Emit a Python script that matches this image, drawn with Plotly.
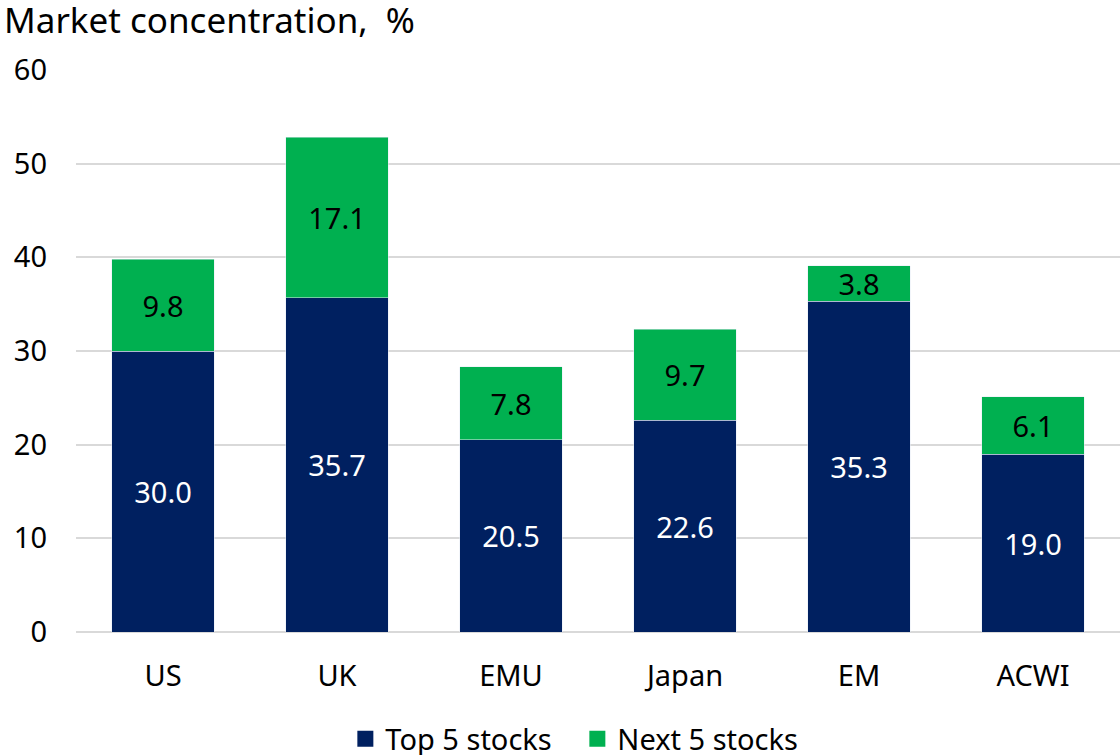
import plotly.graph_objects as go

regions = ["US", "UK", "EMU", "Japan", "EM", "ACWI"]
top5 = [30.0, 35.7, 20.5, 22.6, 35.3, 19.0]
next5 = [9.8, 17.1, 7.8, 9.7, 3.8, 6.1]

navy = "#002060"
green = "#00B050"

fig = go.Figure()
fig.add_trace(go.Bar(x=regions, y=top5, name="Top 5 stocks", marker_color=navy,
                     showlegend=False,
                     text=[f"{v:.1f}" for v in top5], textposition="inside",
                     insidetextanchor="middle", constraintext="none",
                     textfont=dict(color="white", size=29)))
fig.add_trace(go.Bar(x=regions, y=next5, name="Next 5 stocks", marker_color=green,
                     showlegend=False,
                     text=[f"{v:.1f}" for v in next5], textposition="inside",
                     insidetextanchor="middle", constraintext="none",
                     textfont=dict(color="black", size=29)))

# legend entries with square markers
for name, col in [("Top 5 stocks", navy), ("Next 5 stocks", green)]:
    fig.add_trace(go.Scatter(x=[None], y=[None], mode="markers", name=name,
                             marker=dict(symbol="square", size=18, color=col)))

fig.update_layout(
    barmode="stack",
    bargap=0.41,
    width=1120, height=755,
    margin=dict(l=76, r=0, t=70, b=123, autoexpand=False),
    plot_bgcolor="white", paper_bgcolor="white",
    font=dict(family="Noto Sans", size=29, color="black"),
    legend=dict(orientation="h", x=0.258, xanchor="left", y=-0.19, yanchor="middle",
                traceorder="normal", font=dict(size=29), itemwidth=30,
                entrywidth=187, entrywidthmode="pixels"),
    annotations=[dict(text="Market concentration,  %", xref="paper", yref="paper",
                      x=0, y=1.0, xanchor="left", yanchor="middle", xshift=-74, yshift=51,
                      showarrow=False, font=dict(size=35))],
)
fig.update_yaxes(range=[0, 60], dtick=10, showgrid=True, gridcolor="#d9d9d9",
                 gridwidth=1.5, zeroline=True, zerolinecolor="#d9d9d9", zerolinewidth=2,
                 ticks="", ticklabelstandoff=28, tickfont=dict(size=29))
fig.update_xaxes(showline=False, ticks="", ticklabelstandoff=24, tickfont=dict(size=29))

fig.write_html("out.html", config={"displayModeBar": False},
               post_script="document.body.style.margin='0';")
